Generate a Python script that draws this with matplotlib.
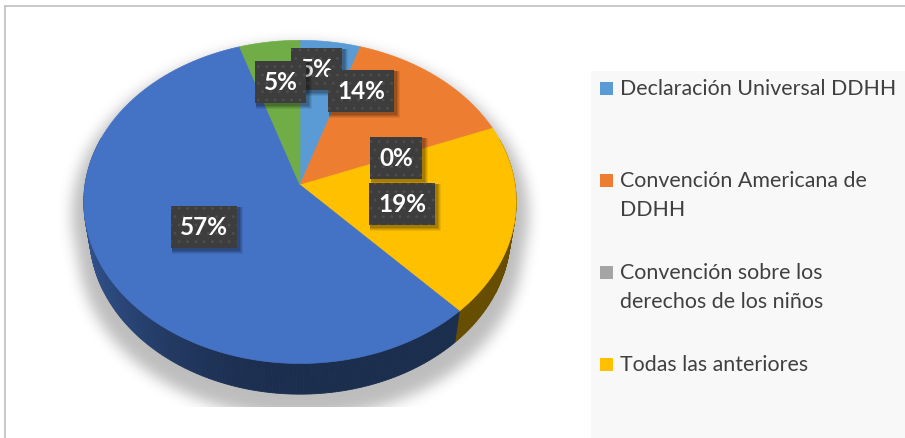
import numpy as np
import matplotlib
matplotlib.use("Agg")
import matplotlib.pyplot as plt
import matplotlib.colors as mcolors
from matplotlib.patches import Polygon, Rectangle
from matplotlib.path import Path

plt.rcParams['hatch.linewidth'] = 0.8

# ---------------- data ----------------
legend_labels = ["Declaración Universal DDHH",
                 "Convención Americana de\nDDHH",
                 "Convención sobre los\nderechos de los niños",
                 "Todas las anteriores"]
values = [5, 14, 0, 19, 57, 5]
slice_colors = ["#5B9BD5", "#ED7D31", "#A5A5A5", "#FFC000", "#4472C4", "#70AD47"]
pct_labels = [f"{v}%" for v in values]

# ---------------- layout ----------------
W, H = 905, 438
CX, CY, S = 300, 185, 215
ELEV = np.deg2rad(48)
DIST = 6.4
THICK = 0.23
label_r = 0.65
label_offsets = [(-4, -20), (-30, -22), (-31, 10), (-36, -4), (29, -13), (1, -7)]
BOX_H = 42
BOX_PADX = 9

fig = plt.figure(figsize=(W / 100, H / 100), dpi=100)
ax = fig.add_axes([0, 0, 1, 1])
ax.set_xlim(0, W)
ax.set_ylim(H, 0)
ax.axis('off')


def proj(r, th, z):
    x = r * np.sin(th)
    y = r * np.cos(th)
    v = y * np.sin(ELEV) + z * np.cos(ELEV)
    d = y * np.cos(ELEV) - z * np.sin(ELEV)
    f = DIST / (DIST + d)
    return CX + S * x * f, CY - S * v * f


total = float(sum(values))
bounds = np.concatenate([[0], np.cumsum(values)]) / total * 2 * np.pi

# ---------------- shadow ----------------
tt = np.linspace(0, 2 * np.pi, 400)
x0, y0 = proj(1, tt, 0)
x1, y1 = proj(1, tt, -THICK)
pts = np.vstack([np.column_stack([x0, y0]), np.column_stack([x1, y1])])


def hull(p):
    p = sorted(map(tuple, p))
    def cross(o, a, b):
        return (a[0] - o[0]) * (b[1] - o[1]) - (a[1] - o[1]) * (b[0] - o[0])
    lower, upper = [], []
    for q in p:
        while len(lower) >= 2 and cross(lower[-2], lower[-1], q) <= 0:
            lower.pop()
        lower.append(q)
    for q in reversed(p):
        while len(upper) >= 2 and cross(upper[-2], upper[-1], q) <= 0:
            upper.pop()
        upper.append(q)
    return np.array(lower[:-1] + upper[:-1])


hp = hull(pts)
SH_SCALE = 1.055
SH_DY = 12
hp_s = np.column_stack([CX + (hp[:, 0] - CX) * SH_SCALE, CY + (hp[:, 1] - CY) * SH_SCALE + SH_DY])
sil = Path(np.vstack([hp_s, hp_s[:1]]))
gx, gy = np.meshgrid(np.arange(W) + 0.5, np.arange(H) + 0.5)
mask = sil.contains_points(np.column_stack([gx.ravel(), gy.ravel()])).reshape(H, W).astype(float)
sig = 7
k = np.arange(-3 * sig, 3 * sig + 1)
ker = np.exp(-k ** 2 / (2 * sig ** 2))
ker /= ker.sum()
blur = np.apply_along_axis(lambda r: np.convolve(r, ker, mode='same'), 1, mask)
blur = np.apply_along_axis(lambda c: np.convolve(c, ker, mode='same'), 0, blur)
blur[407:, :] = 0
img = np.zeros((H, W, 4))
img[..., 3] = blur * 0.26
ax.imshow(img, extent=(0, W, H, 0), zorder=1, interpolation='bilinear')


# ---------------- walls ----------------
def shade(hexc, th):
    rgb = np.array(mcolors.to_rgb(hexc))
    b = 0.40 + 0.34 * max(0.0, -np.sin(th)) ** 2
    return np.clip(rgb * b, 0, 1)


wall = []
for i, v in enumerate(values):
    if v == 0:
        continue
    t0, t1 = bounds[i], bounds[i + 1]
    n = max(2, int((t1 - t0) / 0.015))
    ts = np.linspace(t0, t1, n + 1)
    for a, b in zip(ts[:-1], ts[1:]):
        m = (a + b) / 2
        if np.cos(m) > 0.3:
            continue
        xt, yt = proj(1, np.array([a, b]), 0)
        xb, yb = proj(1, np.array([b, a]), -THICK)
        poly = np.column_stack([np.r_[xt, xb], np.r_[yt, yb]])
        wall.append((np.cos(m), poly, shade(slice_colors[i], m)))
wall.sort(key=lambda w: -w[0])
for _, poly, c in wall:
    ax.add_patch(Polygon(poly, closed=True, fc=c, ec=c, lw=0.6, zorder=2))

# ---------------- top faces ----------------
for i, v in enumerate(values):
    if v == 0:
        continue
    ts = np.linspace(bounds[i], bounds[i + 1], 300)
    xs, ys = proj(1, ts, 0)
    poly = np.column_stack([np.r_[CX, xs], np.r_[CY, ys]])
    ax.add_patch(Polygon(poly, closed=True, fc=slice_colors[i], ec=slice_colors[i],
                         lw=0.5, zorder=3))

# ---------------- data labels ----------------
texts = []
for i, v in enumerate(values):
    mid = (bounds[i] + bounds[i + 1]) / 2
    lx, ly = proj(label_r, mid, 0)
    lx += label_offsets[i][0]
    ly += label_offsets[i][1]
    t = ax.text(lx, ly + 8.5, pct_labels[i], color='white', fontsize=17.5,
                fontweight='bold', family=['Lato', 'DejaVu Sans'],
                ha='center', va='baseline', zorder=10 + 2 * i + 1)
    texts.append((t, lx, ly, i))

fig.canvas.draw()
inv = ax.transData.inverted()
for t, lx, ly, i in texts:
    bb = t.get_window_extent()
    (ax0, _), (ax1, _) = inv.transform([[bb.x0, bb.y0], [bb.x1, bb.y1]])
    tw = abs(ax1 - ax0)
    bw = tw + 2 * BOX_PADX
    for s, a in [(5, 0.07), (4, 0.09), (3, 0.11), (2, 0.13)]:
        ax.add_patch(Rectangle((lx - bw / 2 + 1, ly - BOX_H / 2 + 1), bw + s, BOX_H + s,
                               fc='black', ec='none', alpha=a, zorder=10 + 2 * i))
    ax.add_patch(Rectangle((lx - bw / 2, ly - BOX_H / 2), bw, BOX_H,
                           fc='#3D3D3D', ec='#4E4E4E', lw=0, hatch='..',
                           zorder=10 + 2 * i))

# ---------------- legend ----------------
ax.add_patch(Rectangle((591, 71), W - 591, H - 71, fc='#F8F8F8', ec='none', zorder=0))
LINE_STEP = 29.5
for i, lab in enumerate(legend_labels):
    y = 88 + i * 92
    ax.add_patch(Rectangle((600, y - 6.5), 13, 13, fc=slice_colors[i], ec='none', zorder=5))
    for j, line in enumerate(lab.split("\n")):
        ax.text(620, y + 7 + j * LINE_STEP, line, color='#404040', fontsize=15.4,
                family=['Lato', 'DejaVu Sans'], ha='left', va='baseline', zorder=5)

# ---------------- chart border ----------------
ax.plot([5, 5], [H, 6], color='#C0C0C0', lw=1.2, zorder=0.5)
ax.plot([5, W], [6, 6], color='#C0C0C0', lw=1.2, zorder=0.5)

fig.savefig("out.png", dpi=100)
